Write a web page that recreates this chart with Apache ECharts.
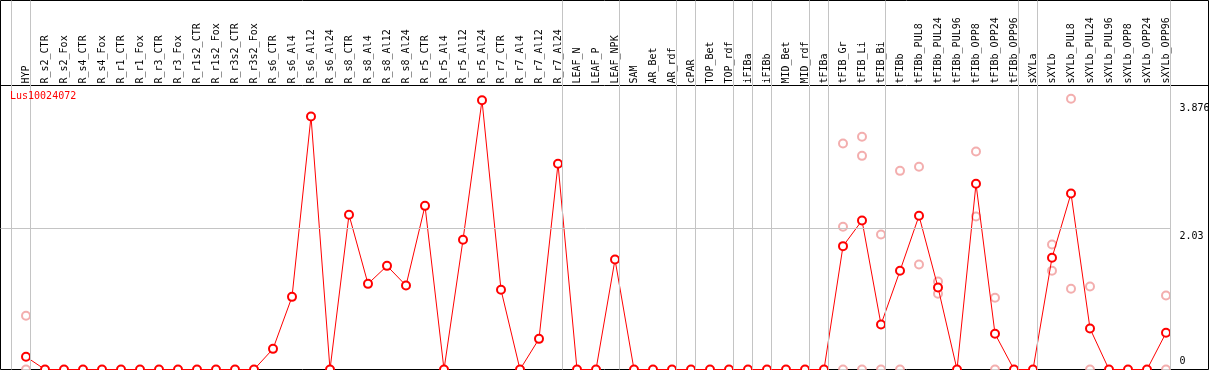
<!DOCTYPE html>
<html>
<head>
<meta charset="utf-8">
<script src="https://cdn.jsdelivr.net/npm/echarts@6/dist/echarts.min.js"></script>
<style>
html, body { margin: 0; padding: 0; background: #fff; }
#main { width: 1209px; height: 370px; }
</style>
</head>
<body>
<div id="main"></div>
<script>
// 样本名称（顶部竖排标签）
var categories = [
    'HYP',
    'R_s2_CTR', 'R_s2_Fox', 'R_s4_CTR', 'R_s4_Fox', 'R_r1_CTR', 'R_r1_Fox', 'R_r3_CTR', 'R_r3_Fox',
    'R_r1s2_CTR', 'R_r1s2_Fox', 'R_r3s2_CTR', 'R_r3s2_Fox',
    'R_s6_CTR', 'R_s6_Al4', 'R_s6_Al12', 'R_s6_Al24', 'R_s8_CTR', 'R_s8_Al4', 'R_s8_Al12', 'R_s8_Al24',
    'R_r5_CTR', 'R_r5_Al4', 'R_r5_Al12', 'R_r5_Al24', 'R_r7_CTR', 'R_r7_Al4', 'R_r7_Al12', 'R_r7_Al24',
    'LEAF_N', 'LEAF_P', 'LEAF_NPK',
    'SAM', 'AR_Bet', 'AR_rdf',
    'cPAR',
    'TOP_Bet', 'TOP_rdf',
    'iFIBa',
    'iFIBb',
    'MID_Bet', 'MID_rdf',
    'tFIBa',
    'tFIB_Gr', 'tFIB_Li', 'tFIB_Bi',
    'tFIBb', 'tFIBb_PUL8', 'tFIBb_PUL24', 'tFIBb_PUL96', 'tFIBb_OPP8', 'tFIBb_OPP24', 'tFIBb_OPP96',
    'sXYLa',
    'sXYLb', 'sXYLb_PUL8', 'sXYLb_PUL24', 'sXYLb_PUL96', 'sXYLb_OPP8', 'sXYLb_OPP24', 'sXYLb_OPP96'
];

// 每组样本个数（分隔竖线）
var groupSizes = [1, 28, 3, 3, 1, 2, 1, 1, 2, 1, 3, 7, 1, 7];

// 平均表达量（红色折线）
var means = [
    0.183,
    0, 0, 0, 0, 0, 0, 0, 0, 0, 0, 0, 0,
    0.297, 1.046, 3.642, 0, 2.227, 1.233, 1.492, 1.209,
    2.356, 0, 1.867, 3.876, 1.147, 0, 0.441, 2.961,
    0, 0, 1.584,
    0, 0, 0,
    0,
    0, 0,
    0,
    0,
    0, 0,
    0,
    1.776, 2.145, 0.648,
    1.421, 2.213, 1.181, 0, 2.673, 0.514, 0,
    0,
    1.608, 2.534, 0.590, 0, 0, 0, 0.528
];

// 重复样本（浅色圆圈）
var repNames = [
    'HYP', 'HYP',
    'tFIB_Gr', 'tFIB_Gr', 'tFIB_Gr',
    'tFIB_Li', 'tFIB_Li', 'tFIB_Li',
    'tFIB_Bi', 'tFIB_Bi',
    'tFIBb', 'tFIBb',
    'tFIBb_PUL8', 'tFIBb_PUL8',
    'tFIBb_PUL24', 'tFIBb_PUL24',
    'tFIBb_OPP8', 'tFIBb_OPP8',
    'tFIBb_OPP24', 'tFIBb_OPP24',
    'sXYLb', 'sXYLb',
    'sXYLb_PUL8', 'sXYLb_PUL8',
    'sXYLb_PUL24', 'sXYLb_PUL24',
    'sXYLb_OPP96', 'sXYLb_OPP96'
];
var repValues = [
    0.773, 0,
    3.254, 2.054, 0,
    3.350, 3.076, 0,
    1.944, 0,
    2.860, 0,
    2.918, 1.512,
    1.267, 1.090,
    3.139, 2.203,
    1.032, 0,
    1.800, 1.421,
    3.897, 1.162,
    1.195, 0,
    1.065, 0
];

var geneName = 'Lus10024072';
var yTicks = [0, 2.03, 3.876];
var gridValue = 2.03;

// ---------- 布局 ----------
var STEP = 19;          // 每个样本的像素宽
var FIRST_X = 26;       // 第一个样本的像素位置
var SEP_PX = 4.5;       // 分隔线在样本右侧的偏移
var GRID_LEFT = 0.5, GRID_W = 1208, GRID_H = 369;
var PX_PER_UNIT = 69.46;
var FONT = 'DejaVu Sans Mono';

var xMin = -(FIRST_X - GRID_LEFT) / STEP;
var xMax = xMin + GRID_W / STEP;
var yMax = GRID_H / PX_PER_UNIT;

var sepValues = [-1 + SEP_PX / STEP];
var acc = -1;
for (var s of groupSizes) {
    acc += s;
    sepValues.push(acc + SEP_PX / STEP);
}

var lineData = means.map(function (v, i) { return [i, v]; });
var repData = repValues.map(function (v, i) { return [categories.indexOf(repNames[i]), v]; });

var chart = echarts.init(document.getElementById('main'));

var option = {
    animation: false,
    backgroundColor: '#fff',
    title: {
        text: geneName,
        left: 10,
        top: 91,
        padding: 0,
        textStyle: { color: '#ff0000', fontSize: 10, fontWeight: 'normal', fontFamily: FONT }
    },
    grid: {
        left: GRID_LEFT, right: 0.5, top: 0.5, bottom: 0.5,
        show: true,
        borderColor: '#000',
        borderWidth: 1,
        containLabel: false,
        outerBoundsMode: 'none'
    },
    xAxis: [{
        type: 'value',
        min: xMin,
        max: xMax,
        show: false
    }, {
        // 顶部样本名
        type: 'value',
        position: 'top',
        offset: -85,
        min: xMin,
        max: xMax,
        axisLine: { show: true, onZero: false, lineStyle: { color: '#000', width: 1 } },
        axisTick: { show: false },
        splitLine: { show: false },
        axisLabel: {
            customValues: categories.map(function (c, i) { return i; }),
            formatter: function (v) { return categories[v]; },
            rotate: -90,
            margin: 2,
            color: '#000',
            fontSize: 10,
            fontFamily: FONT
        }
    }],
    yAxis: {
        type: 'value',
        position: 'right',
        min: 0,
        max: yMax,
        axisLine: { show: false },
        axisTick: { show: false },
        splitLine: { show: false },
        axisLabel: {
            customValues: yTicks,
            inside: true,
            align: 'left',
            margin: 29,
            color: '#000',
            fontSize: 10,
            fontFamily: FONT,
            formatter: function (v) {
                return v === 0 ? '{z|0}' : '{t|' + v + '}';
            },
            rich: {
                t: { lineHeight: 26, verticalAlign: 'bottom', fontSize: 10, fontFamily: FONT, color: '#000' },
                z: { lineHeight: 26, verticalAlign: 'top', fontSize: 10, fontFamily: FONT, color: '#000' }
            }
        }
    },
    series: [{
        name: 'replicates',
        type: 'scatter',
        data: repData,
        symbol: 'emptyCircle',
        symbolSize: 8,
        itemStyle: { color: '#f09a9a', borderWidth: 1.3 },
        z: 2,
        markLine: {
            silent: true,
            symbol: 'none',
            label: { show: false },
            lineStyle: { color: '#c4c4c4', width: 1, type: 'solid' },
            data: sepValues.map(function (v) { return { xAxis: v }; }).concat([
                [{ coord: [xMin, gridValue] }, { coord: [sepValues[sepValues.length - 1], gridValue] }]
            ])
        }
    }, {
        name: geneName,
        type: 'line',
        data: lineData,
        symbol: 'emptyCircle',
        symbolSize: 8,
        color: '#ff0000',
        itemStyle: { color: '#ff0000', borderWidth: 1.5 },
        lineStyle: { color: '#ff0000', width: 1 },
        z: 3
    }]
};

chart.setOption(option);
</script>
</body>
</html>
